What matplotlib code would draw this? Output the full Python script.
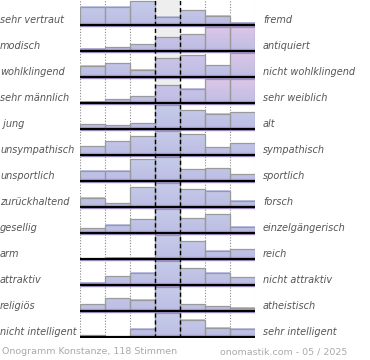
import numpy as np
import matplotlib
matplotlib.use('Agg')
import matplotlib.pyplot as plt
from matplotlib.colors import LinearSegmentedColormap

# pole labels, top to bottom
left_labels = ['sehr vertraut', 'modisch', 'wohlklingend', 'sehr männlich', ' jung',
               'unsympathisch', 'unsportlich', 'zurückhaltend', 'gesellig', 'arm',
               'attraktiv', 'religiös', 'nicht intelligent']
right_labels = ['fremd', 'antiquiert', 'nicht wohlklingend', 'sehr weiblich', 'alt',
                'sympathisch', 'sportlich', 'forsch', 'einzelgängerisch', 'reich',
                'nicht attraktiv', 'atheistisch', 'sehr intelligent']

# bar heights per row (7 steps, full scale = 24)
vertraut = [18.3, 18.3, 24, 8.3, 15, 9.3, 2.3]
modisch = [2.3, 3.7, 6.7, 13.7, 16.7, 24, 24]
wohlklingend = [11.3, 14, 7.3, 19, 21.7, 12, 24]
maennlich = [1.3, 3.7, 6.7, 18, 14.3, 24, 24]
jung = [4.7, 3.7, 5.7, 24, 19, 15.3, 16.7]
sympathisch = [9, 13.7, 19, 24, 20.7, 7.7, 11.7]
sportlich = [10.3, 10.3, 21.7, 24, 11.7, 12.7, 7]
forsch = [9.3, 4, 19.7, 24, 17.7, 16.3, 6.3]
gesellig = [4.7, 8.3, 13.7, 24, 14.7, 19, 6.3]
arm = [0.5, 1.3, 1.3, 24, 18, 8.3, 9.7]
attraktiv = [2.3, 8.7, 12.3, 24, 16.7, 12.3, 7.7]
religioes = [7, 12.7, 11.3, 24, 7, 4.7, 3.3]
intelligent = [2, 0, 8.3, 24, 17.3, 9.3, 8.3]
rows = [vertraut, modisch, wohlklingend, maennlich, jung, sympathisch, sportlich,
        forsch, gesellig, arm, attraktiv, religioes, intelligent]

# cells drawn in pink / lavender (row, column)
pink_cells = [(1, 5), (1, 6), (2, 6), (3, 5), (3, 6)]
lavender_cells = [(1, 3), (1, 4), (2, 3), (2, 4), (3, 3), (3, 4)]

footer_left = 'Onogramm Konstanze, 118 Stimmen'
footer_right = 'onomastik.com - 05 / 2025'

# ---- plotting ----
ROW_H = 26
FULL = 24
n_rows = len(rows)

blue = LinearSegmentedColormap.from_list('b', [(0, '#a99bd0'), (0.12, '#bdbfe4'), (1, '#c6cceb')])
pink = LinearSegmentedColormap.from_list('p', [(0, '#a99bd0'), (0.12, '#c2bfe4'), (1, '#dcc6e8')])
lav = LinearSegmentedColormap.from_list('l', [(0, '#a99bd0'), (0.12, '#c0bde4'), (1, '#cdc6ea')])

fig = plt.figure(figsize=(3.7, 3.6), dpi=100)
ax = fig.add_axes([80 / 370, 22 / 360, 175 / 370, 338 / 360])
ax.set_xlim(0, 7)
ax.set_ylim(0, n_rows * ROW_H)
ax.axis('off')

# middle column background
ax.axvspan(3, 4, color='#eeeeee', zorder=0)

for i, vals in enumerate(rows):
    base = (n_rows - 1 - i) * ROW_H + 1
    for j, v in enumerate(vals):
        if v <= 0:
            continue
        h = min(v, FULL)
        cmap = blue
        if (i, j) in pink_cells:
            cmap = pink
        elif (i, j) in lavender_cells:
            cmap = lav
        # gradient in absolute height so the purple foot is the same everywhere
        g = np.linspace(0, h / FULL, 100).reshape(-1, 1)
        ax.imshow(g, cmap=cmap, vmin=0, vmax=1, origin='lower', aspect='auto',
                  extent=[j, j + 1, base, base + h], zorder=1, interpolation='bilinear')
    ax.bar(np.arange(7), [min(v, FULL) for v in vals], width=1, bottom=base, align='edge',
           fill=False, edgecolor='#9a9a9a', linewidth=0.9, zorder=2)
    # baseline
    ax.plot([0, 7.04], [base - 1.2, base - 1.2], color='#a898cc', lw=1, zorder=3,
            solid_capstyle='butt')
    ax.plot([0, 7.04], [base, base], color='black', lw=1.6, zorder=4, solid_capstyle='butt')
    ty = base + 5
    ax.text(-3.2, ty, left_labels[i], ha='left', va='center', fontsize=7, style='italic',
            color='#555555', clip_on=False)
    ax.text(7.32, ty, right_labels[i], ha='left', va='center', fontsize=7, style='italic',
            color='#555555', clip_on=False)

# grid lines
top = n_rows * ROW_H
for x in [0, 1, 2, 5, 6, 7]:
    ax.plot([x, x], [0, top], color='#888888', lw=0.8, linestyle=(0, (1, 1.5)), zorder=0.5)
for x in [3, 4]:
    ax.plot([x, x], [0, top], color='black', lw=1, linestyle=(0, (3, 2)), zorder=5)

fig.text(2 / 370, 1 - 352 / 360, footer_left, ha='left', va='center', fontsize=6.8, color='#aaaaaa')
fig.text(220 / 370, 1 - 352 / 360, footer_right, ha='left', va='center', fontsize=6.8, color='#aaaaaa')

fig.savefig('out.png', dpi=100)
